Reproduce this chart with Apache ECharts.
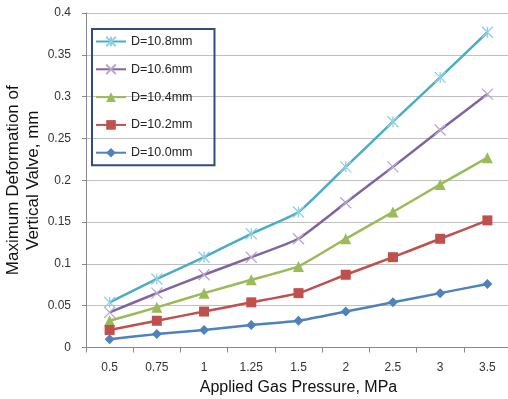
<!DOCTYPE html>
<html><head><meta charset="utf-8">
<script src="https://cdn.jsdelivr.net/npm/echarts@6/dist/echarts.min.js"></script>
<style>html,body{margin:0;padding:0;background:#fff}#c{width:508px;height:399px}</style>
</head><body><div id="c"></div>
<script>
const categories = ['0.5','0.75','1','1.25','1.5','2','2.5','3','3.5'];
const d108 = [0.054,0.082,0.108,0.136,0.162,0.216,0.270,0.323,0.377];
const d106 = [0.042,0.065,0.087,0.108,0.130,0.173,0.216,0.260,0.303];
const d104 = [0.032,0.048,0.065,0.081,0.097,0.130,0.162,0.195,0.227];
const d102 = [0.021,0.032,0.043,0.054,0.065,0.087,0.108,0.130,0.152];
const d100 = [0.010,0.016,0.021,0.027,0.032,0.043,0.054,0.065,0.076];
const names = ['D=10.8mm','D=10.6mm','D=10.4mm','D=10.2mm','D=10.0mm'];

const font = "'Liberation Sans', Arial, sans-serif";
function mk(name, data, color, symbol, size, extra) {
  return Object.assign({
    name, type: 'line', data, smooth: 0.15,
    symbol, symbolSize: size,
    lineStyle: { color, width: 2.5 },
    itemStyle: { color },
    emphasis: { disabled: true }
  }, extra || {});
}
const chart = echarts.init(document.getElementById('c'), null, {renderer: 'canvas'});
chart.setOption({
  animation: false,
  backgroundColor: '#fff',
  grid: { left: 86, top: 13, width: 425, height: 334.5, containLabel: false, outerBoundsMode: 'none' },
  legend: {
    orient: 'vertical', left: 92, top: 29,
    data: names,
    itemWidth: 30, itemHeight: 12, itemGap: 14.8,
    padding: [6, 22, 6, 3],
    borderColor: '#2F4E7D', borderWidth: 2,
    textStyle: { fontFamily: font, fontSize: 12.5, color: '#222' }
  },
  xAxis: {
    type: 'category', data: categories, boundaryGap: true,
    name: 'Applied Gas Pressure, MPa', nameLocation: 'middle', nameGap: 32, nameMoveOverlap: false,
    nameTextStyle: { fontFamily: font, fontSize: 16, color: '#111' },
    axisLine: { lineStyle: { color: '#888' } },
    axisTick: { show: true, length: 5, lineStyle: { color: '#888' } },
    axisLabel: { fontFamily: font, fontSize: 12, color: '#333', margin: 14 }
  },
  yAxis: {
    type: 'value', min: 0, max: 0.4, interval: 0.05,
    name: 'Maximum Deformation of\nVertical Valve, mm', nameLocation: 'middle', nameGap: 43, nameMoveOverlap: false,
    nameTextStyle: { fontFamily: font, fontSize: 17, color: '#111', lineHeight: 20 },
    axisLine: { show: true, lineStyle: { color: '#888' } },
    axisTick: { show: true, length: 4, lineStyle: { color: '#888' } },
    axisLabel: { fontFamily: font, fontSize: 12, color: '#333', margin: 15,
      formatter: v => String(+v.toFixed(2)) },
    splitLine: { lineStyle: { color: '#C0C0C0', width: 1 } }
  },
  series: [
    mk(names[0], d108, '#4BACC6', 'path://M0,0L10,10M10,0L0,10M5,0L5,10', 11,
       { itemStyle: { color: '#9FD8E8', borderColor: '#8FD0E4', borderWidth: 1.3 } }),
    mk(names[1], d106, '#8064A2', 'path://M0,0L10,10M10,0L0,10', 11,
       { itemStyle: { color: '#C2B2D8', borderColor: '#B8A6D0', borderWidth: 1.3 } }),
    mk(names[2], d104, '#9BBB59', 'triangle', 11),
    mk(names[3], d102, '#C0504D', 'rect', 10),
    mk(names[4], d100, '#4F81BD', 'diamond', 10)
  ]
});
</script></body></html>
